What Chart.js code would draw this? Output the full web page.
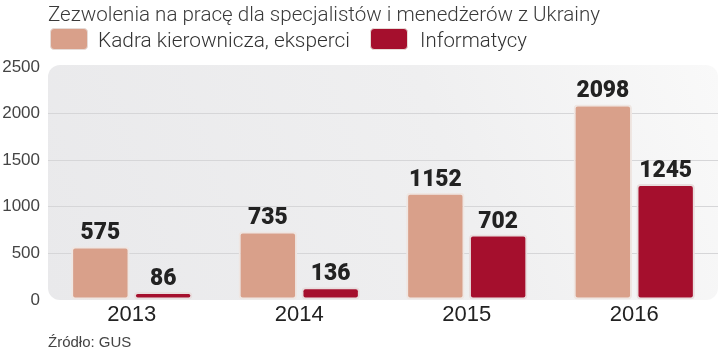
<!DOCTYPE html>
<html><head><meta charset="utf-8">
<script src="https://cdn.jsdelivr.net/npm/chart.js@4.4.1/dist/chart.umd.min.js"></script>
<style>
html,body{margin:0;padding:0;background:#fff;}
#wrap{position:relative;width:720px;height:355px;overflow:hidden;}
canvas{position:absolute;left:0;top:0;}
.t{position:absolute;font-family:Roboto,"Liberation Sans",sans-serif;font-weight:300;color:#333;white-space:nowrap;transform-origin:0 0;line-height:1;}
#title{left:48px;top:4px;font-size:20px;color:#3a3a3a;}
.sq{position:absolute;width:36px;height:20px;border-radius:4px;border:1px solid #e6dcd8;}
#src{left:48px;top:334px;font-size:15px;color:#444;font-family:"Liberation Sans","DejaVu Sans",sans-serif;font-weight:normal;}
</style></head>
<body><div id="wrap">
<canvas id="c" width="720" height="355"></canvas>
<div class="t" id="title" data-w="552">Zezwolenia na pracę dla specjalistów i menedżerów z Ukrainy</div>
<div class="sq" style="left:50px;top:28px;background:#d9a08a;"></div>
<div class="t" id="l1" style="left:98px;top:30px;font-size:20px;" data-w="252">Kadra kierownicza, eksperci</div>
<div class="sq" style="left:370px;top:28px;background:#a50f2d;"></div>
<div class="t" id="l2" style="left:420px;top:30px;font-size:20px;" data-w="107">Informatycy</div>
<div class="t" id="src">Źródło: GUS</div>
</div>
<script>
const categories = ["2013","2014","2015","2016"];
const kadra = [575, 735, 1152, 2098];
const informatycy = [86, 136, 702, 1245];
const seriesNames = ["Kadra kierownicza, eksperci","Informatycy"];
const yTicks = [0, 500, 1000, 1500, 2000, 2500];

document.querySelectorAll('[data-w]').forEach(el=>{
  const w = el.getBoundingClientRect().width;
  const target = +el.dataset.w;
  if (w>0) el.style.transform = 'scaleX(' + (target/w) + ')';
});

const bgPlugin = {
  id:'bg',
  beforeDraw(chart){
    const {ctx, chartArea:a} = chart;
    ctx.save();
    const g = ctx.createLinearGradient(a.left, a.bottom, a.right, a.top);
    g.addColorStop(0,'#e9e9eb');
    g.addColorStop(0.6,'#efeff0');
    g.addColorStop(1,'#f9f9f9');
    ctx.fillStyle = g;
    ctx.beginPath();
    ctx.roundRect(a.left, a.top-2, a.right-a.left, a.bottom-a.top+2, 12);
    ctx.fill();
    ctx.restore();
  }
};
const labelPlugin = {
  id:'vals',
  afterDatasetsDraw(chart){
    const ctx = chart.ctx;
    ctx.save();
    ctx.font = '900 24px Roboto,"DejaVu Sans Condensed",sans-serif';
    ctx.fillStyle = '#222';
    ctx.textAlign = 'center';
    ctx.textBaseline = 'alphabetic';
    chart.data.datasets.forEach((ds,i)=>{
      chart.getDatasetMeta(i).data.forEach((bar,j)=>{
        ctx.save();
        ctx.translate(bar.x, bar.y - 7);
        ctx.scale(0.95, 1);
        ctx.fillText(String(ds.data[j]), 0, 0);
        ctx.restore();
      });
    });
    ctx.restore();
  }
};

new Chart(document.getElementById('c'), {
  type:'bar',
  data:{
    labels:categories,
    datasets:[
      {label:seriesNames[0], data:kadra, backgroundColor:'#d9a08a', borderColor:'#efe6e2', borderWidth:2, borderRadius:4, borderSkipped:false},
      {label:seriesNames[1], data:informatycy, backgroundColor:'#a50f2d', borderColor:'#e8dede', borderWidth:2, borderRadius:4, borderSkipped:false}
    ]
  },
  options:{
    responsive:false, animation:false,
    layout:{padding:{top:67, right:2, left:0, bottom:0}},
    categoryPercentage:0.75, barPercentage:0.93,
    plugins:{legend:{display:false}, title:{display:false}, tooltip:{enabled:false}},
    scales:{
      y:{
        min:0, max:2500,
        afterBuildTicks(s){ s.ticks = yTicks.map(v=>({value:v})); },
        afterFit(s){ s.width = 48; },
        border:{display:false},
        grid:{drawTicks:false, color:(c)=> (c.tick && (c.tick.value===0 || c.tick.value===2500)) ? 'rgba(0,0,0,0)' : '#d6d6d8', lineWidth:1},
        ticks:{padding:8, color:'#444', callback:(v)=>String(v), font:{family:'"Liberation Sans","DejaVu Sans",sans-serif', size:17}}
      },
      x:{
        afterFit(s){ s.height = 55; },
        border:{display:false},
        grid:{display:false, drawTicks:false},
        ticks:{padding:2, color:'#222', font:{family:'"Liberation Sans","DejaVu Sans",sans-serif', size:22}}
      }
    }
  },
  plugins:[bgPlugin, labelPlugin]
});
</script>
</body></html>
